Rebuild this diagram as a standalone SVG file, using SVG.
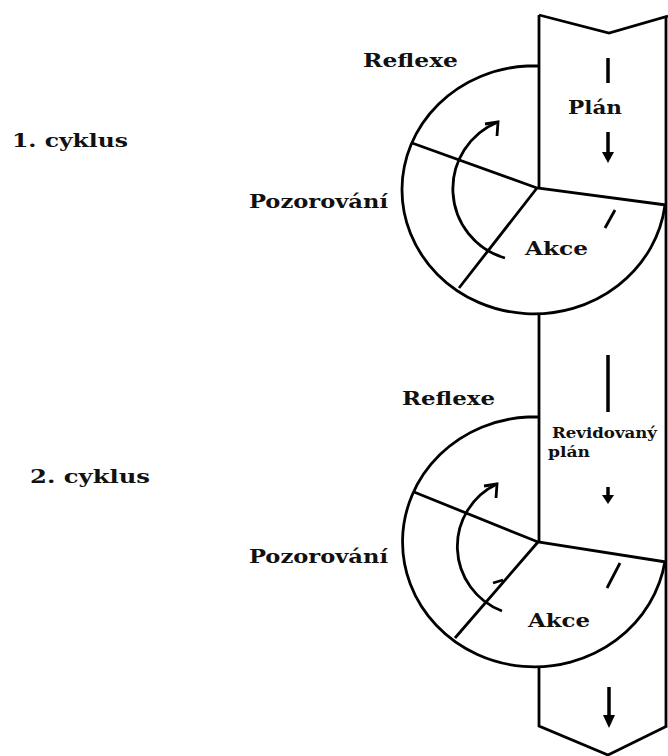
<svg xmlns="http://www.w3.org/2000/svg" width="668" height="756" viewBox="0 0 668 756">
<style>
.ln{fill:none;stroke:#000;stroke-width:2.8;stroke-linejoin:miter;stroke-linecap:butt}
.th{fill:none;stroke:#000;stroke-width:3.5}
.t{font-family:"DejaVu Serif","Liberation Serif",serif;font-weight:bold;font-size:19px;fill:#111}
.s{font-size:14px}
</style>
<rect width="668" height="756" fill="#fff"/>
<g id="band">
<path class="ln" d="M539 15 L609 33 L668 16"/>
<path class="ln" d="M539 15 V188"/>
<path class="ln" d="M539 313 V542"/>
<path class="ln" d="M539 667 V726 L608 755 L667 726"/>
<path class="ln" d="M666 17 V727"/>
</g>
<g id="cycle1">
<path class="ln" d="M539 66 H527 A132 124 0 1 0 665 205"/>
<path class="ln" d="M412 143 L537 188 L666 205 M537 188 L459 288"/>
<path class="ln" d="M505 258 A72 72 0 0 1 498 122"/>
<path class="ln" d="M485 124 L498 122 L497 136"/>
<path class="ln" d="M605 228 L615 210"/>
</g>
<g id="cycle2">
<path class="ln" d="M539 417 H528 A132 125 0 1 0 665 561"/>
<path class="ln" d="M414 492 L538 542 L666 562 M538 542 L455 638"/>
<path class="ln" d="M502 611 A69 69 0 0 1 497 484"/>
<path class="ln" d="M484 486 L497 484 L496 498"/>
<path class="ln" d="M607 588 L620 563"/>
<path class="ln" d="M493 583 L503 580"/>
</g>
<g id="arrows">
<path class="th" d="M608 58 V83"/>
<path class="th" d="M608 132 V153"/>
<path d="M602 152 H614 L608 163 Z" fill="#000"/>
<path class="th" d="M608 355 V412"/>
<path class="th" d="M608 487 V496"/>
<path d="M602 495 H614 L608 504 Z" fill="#000"/>
<path class="th" d="M609 687 V716"/>
<path d="M603 715 H615 L609 728 Z" fill="#000"/>
</g>
<g id="labels">
<text class="t" x="12" y="147" textLength="116" lengthAdjust="spacingAndGlyphs">1. cyklus</text>
<text class="t" x="30" y="483" textLength="120" lengthAdjust="spacingAndGlyphs">2. cyklus</text>
<text class="t" x="363" y="67" textLength="95" lengthAdjust="spacingAndGlyphs">Reflexe</text>
<text class="t" x="402" y="405" textLength="93" lengthAdjust="spacingAndGlyphs">Reflexe</text>
<text class="t" x="568" y="114" textLength="54" lengthAdjust="spacingAndGlyphs">Plán</text>
<text class="t" x="249" y="208" textLength="139" lengthAdjust="spacingAndGlyphs">Pozorování</text>
<text class="t" x="249" y="563" textLength="139" lengthAdjust="spacingAndGlyphs">Pozorování</text>
<text class="t" x="525" y="255" textLength="63" lengthAdjust="spacingAndGlyphs">Akce</text>
<text class="t" x="528" y="627" textLength="62" lengthAdjust="spacingAndGlyphs">Akce</text>
<text class="t s" x="552" y="438" textLength="105" lengthAdjust="spacingAndGlyphs">Revidovaný</text>
<text class="t s" x="548" y="457" textLength="42" lengthAdjust="spacingAndGlyphs">plán</text>
</g>
</svg>
